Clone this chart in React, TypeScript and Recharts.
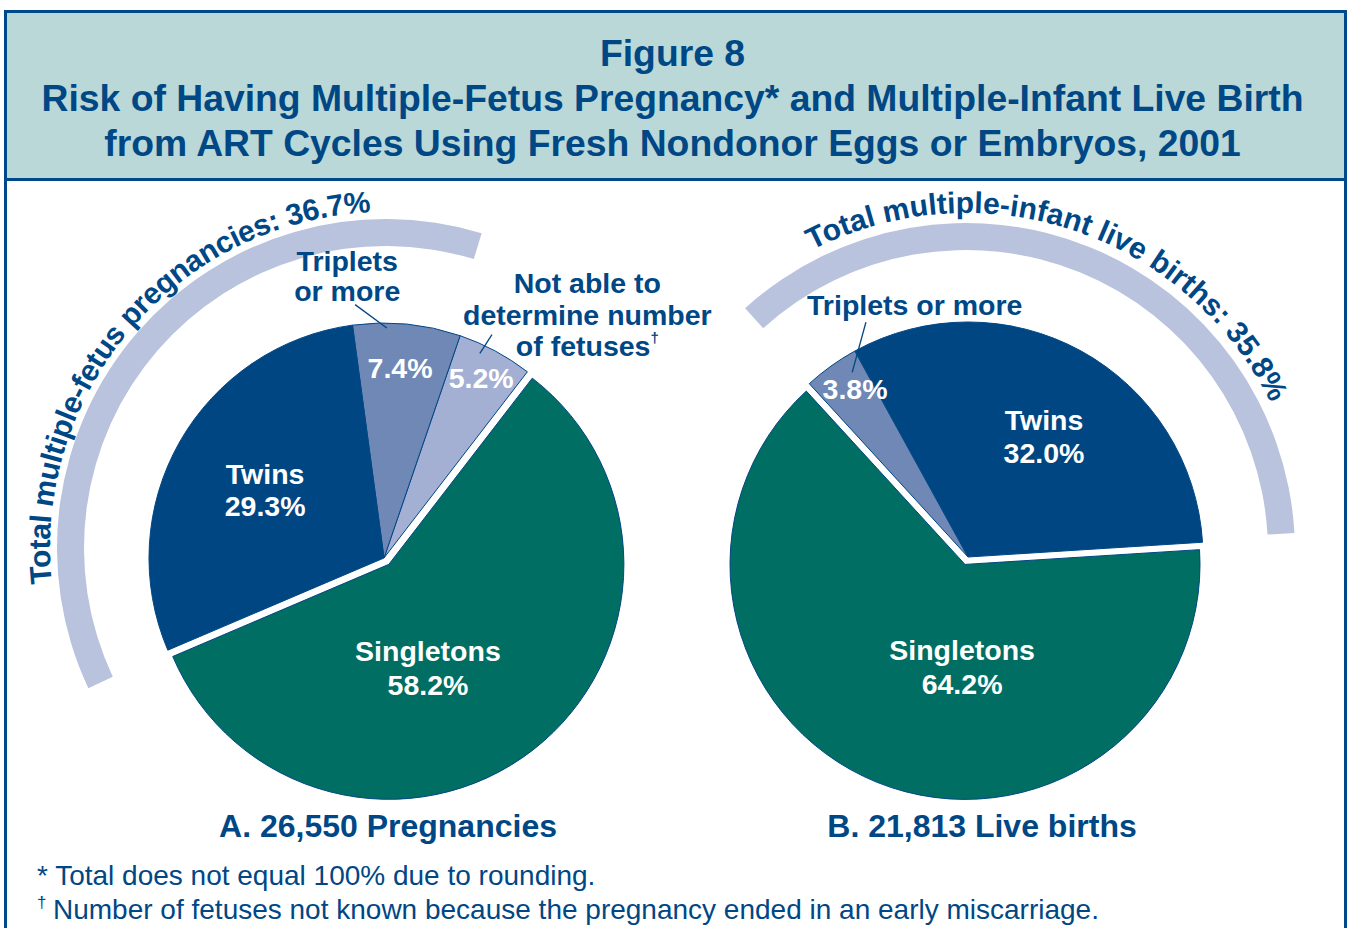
import React from "react";
import { PieChart, Pie, Cell } from "recharts";

// ---- data ----
const titleLines = [
  "Figure 8",
  "Risk of Having Multiple-Fetus Pregnancy* and Multiple-Infant Live Birth",
  "from ART Cycles Using Fresh Nondonor Eggs or Embryos, 2001",
];

const pregnancyNames = ["Not able to determine number of fetuses", "Triplets or more", "Twins", "Singletons"];
const pregnancyValues = [5.2, 7.4, 29.3, 58.2];
const pregnancyMultiple = 36.7;
const pregnancyCaption = "A. 26,550 Pregnancies";
const pregnancyArcText = "Total multiple-fetus pregnancies: 36.7%";

const birthNames = ["Twins", "Triplets or more", "Singletons"];
const birthValues = [32.0, 3.8, 64.2];
const birthMultiple = 35.8;
const birthCaption = "B. 21,813 Live births";
const birthArcText = "Total multiple-infant live births: 35.8%";

const footnotes = [
  "Total does not equal 100% due to rounding.",
  "Number of fetuses not known because the pregnancy ended in an early miscarriage.",
];

// ---- style ----
const NAVY = "#004785";
const BORDER = "#00488c";
const WHITE = "#ffffff";
const ARC = "#b9c3de";
const FONT = '"Liberation Sans", Arial, Helvetica, sans-serif';
const pregnancyColors = ["#a3afd3", "#6f88b5", "#004683", "#006e62"];
const birthColors = ["#004683", "#6f88b5", "#006e62"];

const CHART_W = 1337;
const CHART_H = 737;
const OX = 7;
const OY = 181;

const layoutA = { cx: 384 - OX, cy: 558 - OY, r: 235, start: 52.4, arcCx: 386 - OX, arcCy: 548 - OY, arcStart: 73.1, textR: 336, textFrom: 186, textTo: 80, textLen: 548 };
const layoutB = { cx: 968 - OX, cy: 557 - OY, r: 235, start: 3.6, arcCx: 966 - OX, arcCy: 552 - OY, arcStart: 3.3, textR: 339, textFrom: 117, textTo: 15, textLen: 538 };

const pct = (v: number) => `${v.toFixed(1)}%`;

const polar = (cx: number, cy: number, r: number, deg: number) => {
  const rad = (deg * Math.PI) / 180;
  return { x: cx + r * Math.cos(rad), y: cy - r * Math.sin(rad) };
};

// offset of an exploded slice along its mid angle
const explode = (values: number[], idx: number, start: number, dist: number) => {
  const total = values.reduce((s, v) => s + v, 0);
  const before = values.slice(0, idx).reduce((s, v) => s + v, 0);
  const mid = start + (360 * (before + values[idx] / 2)) / total;
  const p = polar(0, 0, dist, mid);
  return { dx: p.x, dy: p.y };
};

type Block = { lines: string[]; r: number; a: number; gap: number; color: string; dagger?: boolean };
type Spec = { blocks: Block[]; leader?: number[] };

const pregnancySpecs: Spec[] = [
  {
    blocks: [
      { lines: ["Not able to", "determine number", "of fetuses"], r: 334, a: 52.5, gap: 31.5, color: NAVY, dagger: true },
      { lines: [pct(pregnancyValues[0])], r: 196, a: 60.3, gap: 0, color: WHITE },
    ],
    leader: [226, 64.9, 248, 64.2],
  },
  {
    blocks: [
      { lines: ["Triplets", "or more"], r: 289, a: 97.3, gap: 30, color: NAVY },
      { lines: [pct(pregnancyValues[1])], r: 181, a: 84.9, gap: 0, color: WHITE },
    ],
    leader: [230, 89.3, 255, 96.5],
  },
  { blocks: [{ lines: [pregnancyNames[2], pct(pregnancyValues[2])], r: 140, a: 148.1, gap: 32, color: WHITE }] },
  { blocks: [{ lines: [pregnancyNames[3], pct(pregnancyValues[3])], r: 112, a: 293.1, gap: 34, color: WHITE }] },
];

const birthSpecs: Spec[] = [
  { blocks: [{ lines: [birthNames[0], pct(birthValues[0])], r: 148, a: 59.1, gap: 33, color: WHITE }] },
  {
    blocks: [
      { lines: [birthNames[1]], r: 248, a: 102.4, gap: 0, color: NAVY },
      { lines: [pct(birthValues[1])], r: 194, a: 125.6, gap: 0, color: WHITE },
    ],
    leader: [218, 122.1, 256, 113.5],
  },
  { blocks: [{ lines: [birthNames[2], pct(birthValues[2])], r: 103, a: 266.7, gap: 34, color: WHITE }] },
];

const makeLabel = (specs: Spec[], cx: number, cy: number) => (props: any) => {
  const spec = specs[props.index];
  if (!spec) return <g />;
  let leader = null;
  if (spec.leader) {
    const p1 = polar(cx, cy, spec.leader[0], spec.leader[1]);
    const p2 = polar(cx, cy, spec.leader[2], spec.leader[3]);
    leader = <line x1={p1.x} y1={p1.y} x2={p2.x} y2={p2.y} stroke={NAVY} strokeWidth={1.3} />;
  }
  return (
    <g>
      {leader}
      {spec.blocks.map((b, i) => {
        const p = polar(cx, cy, b.r, b.a);
        return (
          <text key={i} x={p.x} y={p.y} textAnchor="middle" fill={b.color} fontSize={28.5} fontWeight="bold" fontFamily={FONT}>
            {b.lines.map((ln, j) => (
              <tspan key={j} x={p.x} dy={j === 0 ? 0 : b.gap}>
                {ln}
                {b.dagger && j === b.lines.length - 1 ? (
                  <tspan fontSize={15} dy={-13}>†</tspan>
                ) : null}
              </tspan>
            ))}
          </text>
        );
      })}
    </g>
  );
};

const makeArcLabel = (id: string, text: string, cx: number, cy: number, r: number, from: number, to: number, len: number) => (props: any) => {
  if (props.index !== 0) return <g />;
  const p1 = polar(cx, cy, r, from);
  const p2 = polar(cx, cy, r, to);
  const d = `M ${p1.x} ${p1.y} A ${r} ${r} 0 0 1 ${p2.x} ${p2.y}`;
  return (
    <g>
      <path id={id} d={d} fill="none" stroke="none" />
      <text fill={NAVY} fontSize={30} fontWeight="bold" fontFamily={FONT}>
        <textPath href={`#${id}`} textLength={len} lengthAdjust="spacing">{text}</textPath>
      </text>
    </g>
  );
};

const pregnancyData = pregnancyNames.map((name, i) => ({ name, value: pregnancyValues[i] }));
const birthData = birthNames.map((name, i) => ({ name, value: birthValues[i] }));
const pregnancyArcData = [
  { name: "multiple", value: pregnancyMultiple },
  { name: "rest", value: 100 - pregnancyMultiple },
];
const birthArcData = [
  { name: "multiple", value: birthMultiple },
  { name: "rest", value: 100 - birthMultiple },
];

export default function App() {
  const singleA = pregnancyNames.indexOf("Singletons");
  const singleB = birthNames.indexOf("Singletons");
  const offA = explode(pregnancyValues, singleA, layoutA.start, 8);
  const offB = explode(birthValues, singleB, layoutB.start, 8);

  const pieProps = {
    dataKey: "value",
    nameKey: "name",
    innerRadius: 0,
    isAnimationActive: false,
    labelLine: false,
    stroke: NAVY,
    strokeWidth: 1,
  };

  const captionStyle: React.CSSProperties = {
    position: "absolute",
    width: 600,
    top: 797,
    textAlign: "center",
    fontWeight: "bold",
    fontSize: 32,
    lineHeight: "32px",
  };

  return (
    <div
      style={{
        position: "absolute",
        left: 4,
        top: 10,
        width: 1343,
        height: 918,
        border: `3px solid ${BORDER}`,
        borderBottom: "none",
        boxSizing: "border-box",
        fontFamily: FONT,
        color: NAVY,
        background: "#fff",
      }}
    >
      <div
        style={{
          height: 168,
          background: "#b9d8d7",
          borderBottom: `3px solid ${BORDER}`,
          textAlign: "center",
          fontWeight: "bold",
          fontSize: 37.3,
          lineHeight: "45px",
          paddingTop: 18,
          paddingRight: 6,
          boxSizing: "border-box",
        }}
      >
        {titleLines.map((t) => (
          <div key={t}>{t}</div>
        ))}
      </div>

      <div style={{ position: "absolute", left: 0, top: 168 }}>
        <PieChart width={CHART_W} height={CHART_H} margin={{ top: 0, right: 0, bottom: 0, left: 0 }}>
          {/* A: arc for total multiples */}
          <Pie
            data={pregnancyArcData}
            dataKey="value"
            cx={layoutA.arcCx}
            cy={layoutA.arcCy}
            innerRadius={302}
            outerRadius={329}
            startAngle={layoutA.arcStart}
            endAngle={layoutA.arcStart + 360}
            stroke="none"
            isAnimationActive={false}
            labelLine={false}
            label={makeArcLabel("arcTextA", pregnancyArcText, layoutA.arcCx, layoutA.arcCy, layoutA.textR, layoutA.textFrom, layoutA.textTo, layoutA.textLen)}
          >
            <Cell fill={ARC} />
            <Cell fill="none" />
          </Pie>
          {/* A: exploded singleton slice */}
          <Pie
            {...pieProps}
            data={pregnancyData}
            cx={layoutA.cx + offA.dx}
            cy={layoutA.cy + offA.dy}
            outerRadius={layoutA.r}
            startAngle={layoutA.start}
            endAngle={layoutA.start + 360}
          >
            {pregnancyData.map((d, i) => (
              <Cell key={d.name} fill={i === singleA ? pregnancyColors[i] : "none"} stroke={i === singleA ? NAVY : "none"} />
            ))}
          </Pie>
          {/* A: remaining slices + labels */}
          <Pie
            {...pieProps}
            data={pregnancyData}
            cx={layoutA.cx}
            cy={layoutA.cy}
            outerRadius={layoutA.r}
            startAngle={layoutA.start}
            endAngle={layoutA.start + 360}
            label={makeLabel(pregnancySpecs, layoutA.cx, layoutA.cy)}
          >
            {pregnancyData.map((d, i) => (
              <Cell key={d.name} fill={i === singleA ? "none" : pregnancyColors[i]} stroke={i === singleA ? "none" : NAVY} />
            ))}
          </Pie>

          {/* B: arc for total multiples */}
          <Pie
            data={birthArcData}
            dataKey="value"
            cx={layoutB.arcCx}
            cy={layoutB.arcCy}
            innerRadius={302}
            outerRadius={329}
            startAngle={layoutB.arcStart}
            endAngle={layoutB.arcStart + 360}
            stroke="none"
            isAnimationActive={false}
            labelLine={false}
            label={makeArcLabel("arcTextB", birthArcText, layoutB.arcCx, layoutB.arcCy, layoutB.textR, layoutB.textFrom, layoutB.textTo, layoutB.textLen)}
          >
            <Cell fill={ARC} />
            <Cell fill="none" />
          </Pie>
          <Pie
            {...pieProps}
            data={birthData}
            cx={layoutB.cx + offB.dx}
            cy={layoutB.cy + offB.dy}
            outerRadius={layoutB.r}
            startAngle={layoutB.start}
            endAngle={layoutB.start + 360}
          >
            {birthData.map((d, i) => (
              <Cell key={d.name} fill={i === singleB ? birthColors[i] : "none"} stroke={i === singleB ? NAVY : "none"} />
            ))}
          </Pie>
          <Pie
            {...pieProps}
            data={birthData}
            cx={layoutB.cx}
            cy={layoutB.cy}
            outerRadius={layoutB.r}
            startAngle={layoutB.start}
            endAngle={layoutB.start + 360}
            label={makeLabel(birthSpecs, layoutB.cx, layoutB.cy)}
          >
            {birthData.map((d, i) => (
              <Cell key={d.name} fill={i === singleB ? "none" : birthColors[i]} stroke={i === singleB ? "none" : NAVY} />
            ))}
          </Pie>
        </PieChart>
      </div>

      {/* captions */}
      <div style={{ ...captionStyle, left: 388 - 7 - 300 }}>{pregnancyCaption}</div>
      <div style={{ ...captionStyle, left: 982 - 7 - 300 }}>{birthCaption}</div>

      {/* footnotes */}
      <div style={{ position: "absolute", left: 30, top: 846, fontSize: 28, lineHeight: "34px", whiteSpace: "nowrap" }}>
        <div>* {footnotes[0]}</div>
        <div>
          <span style={{ display: "inline-block", width: 16, fontSize: 17, position: "relative", top: -11 }}>†</span>
          {footnotes[1]}
        </div>
      </div>
    </div>
  );
}
